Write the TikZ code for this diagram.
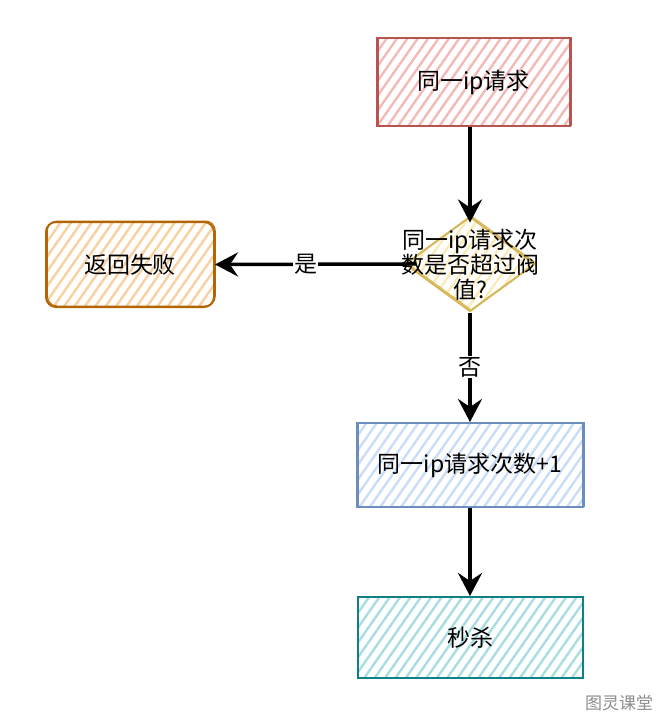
\documentclass[tikz,border=0pt]{standalone}
\usepackage{fontspec}
\newfontfamily\cjk{Noto Sans CJK SC}
\usetikzlibrary{shapes.geometric,patterns.meta,arrows.meta}
\definecolor{redS}{HTML}{B85450}\definecolor{redF}{HTML}{F4B9B6}
\definecolor{orgS}{HTML}{B46504}\definecolor{orgF}{HTML}{FAD0A0}
\definecolor{bluS}{HTML}{6C8EBF}\definecolor{bluF}{HTML}{C9DDF7}
\definecolor{tealS}{HTML}{0E8088}\definecolor{tealF}{HTML}{A6DEE2}
\definecolor{yelS}{HTML}{D6B656}\definecolor{yelF}{HTML}{FCEBB8}
\definecolor{wmC}{HTML}{8C8C8C}
\tikzset{
  lbl/.style={font=\cjk\fontsize{23}{25}\selectfont, text=black},
  hatchfill/.style={pattern={Lines[angle=55,distance=8.5pt,line width=2.4pt]}, pattern color=#1},
  sketchline/.style={line width=2pt, postaction={draw=#1, line width=1pt, transform canvas={shift={(1.3pt,1pt)}}}},
  boxshape/.style 2 args={rectangle, draw=#1, sketchline=#1, hatchfill=#2,
    lbl, inner sep=0pt},
  arr/.style={line width=3.5pt, draw=black, -{Stealth[length=23pt,width=24pt,inset=8pt]}},
  edgelbl/.style={lbl, fill=white, inner sep=1pt}
}
\begin{document}
\begin{tikzpicture}[x=1pt,y=-1pt]
\useasboundingbox (0,0) rectangle (666,724);
\node[boxshape={redS}{redF}, minimum width=193pt, minimum height=88pt] (req) at (473.5,82) {同一ip请求};
\node[diamond, draw=yelS, sketchline=yelS, hatchfill=yelF, minimum width=130pt, minimum height=95pt, inner sep=0pt] (dia) at (470,264) {};
\node[lbl, align=center] (diat) at (470,265) {同一ip请求次\\数是否超过阀\\值?};
\node[boxshape={orgS}{orgF}, rounded corners=10pt, minimum width=168pt, minimum height=85pt] (fail) at (130,264.5) {返回失败};
\node[boxshape={bluS}{bluF}, minimum width=226pt, minimum height=84pt] (inc) at (470,465) {同一ip请求次数+1};
\node[boxshape={tealS}{tealF}, minimum width=225pt, minimum height=81pt] (kill) at (470,637.5) {秒杀};
\node[font=\cjk\fontsize{17}{17}\selectfont, text=wmC] (wm) at (619,703) {图灵课堂};
\draw[arr, shorten >=-7pt] (req.south -| dia.north) -- (dia.north);
\draw[arr, shorten <=-12pt] (dia.west) -- (fail.east) node[edgelbl, pos=0.52] (yes) {是};
\draw[arr] (dia.south) -- (inc.north) node[edgelbl, midway] (no) {否};
\draw[arr] (inc.south) -- (kill.north);
\end{tikzpicture}
\end{document}
